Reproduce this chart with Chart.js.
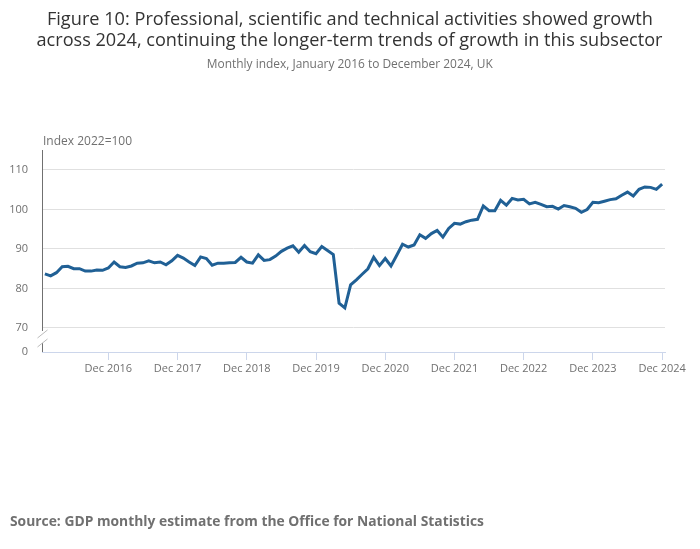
<!DOCTYPE html>
<html>
<head>
<meta charset="utf-8">
<script src="https://cdn.jsdelivr.net/npm/chart.js@4.4.1/dist/chart.umd.min.js"></script>
<style>
html,body{margin:0;padding:0;background:#fff;}
#wrap{position:relative;width:700px;height:549px;overflow:hidden;font-family:"Open Sans",sans-serif;}
#c{position:absolute;left:0;top:0;}
.t{position:absolute;left:0;width:700px;text-align:center;white-space:nowrap;}
.t span{display:inline-block;transform-origin:50% 50%;}
#t1{top:6px;font-size:19px;line-height:24px;color:#333;}
#t2{top:27px;font-size:19px;line-height:24px;color:#333;}
#sub{top:56px;font-size:12px;line-height:16px;color:#707070;}
#src{position:absolute;left:10px;top:511px;font-size:14px;line-height:20px;font-weight:700;color:#707070;white-space:nowrap;}
#src span{display:inline-block;transform-origin:0 50%;}
</style>
</head>
<body>
<div id="wrap">
<canvas id="c" width="700" height="549"></canvas>
<div class="t" id="t1"><span data-w="606">Figure 10: Professional, scientific and technical activities showed growth</span></div>
<div class="t" id="t2"><span data-w="626">across 2024, continuing the longer-term trends of growth in this subsector</span></div>
<div class="t" id="sub"><span data-w="286">Monthly index, January 2016 to December 2024, UK</span></div>
<div id="src"><span data-w="474">Source: GDP monthly estimate from the Office for National Statistics</span></div>
</div>
<script>
// ---- data ----
const monthNames = ['Jan','Feb','Mar','Apr','May','Jun','Jul','Aug','Sep','Oct','Nov','Dec'];
const years = [2016,2017,2018,2019,2020,2021,2022,2023,2024];
const v2016 = [83.7,83.2,84.0,85.5,85.6,85.0,85.0,84.4,84.4,84.7,84.6,85.2];
const v2017 = [86.7,85.5,85.3,85.7,86.4,86.5,87.0,86.5,86.7,86.0,87.0,88.4];
const v2018 = [87.7,86.7,85.8,88.0,87.6,85.9,86.4,86.4,86.5,86.6,87.9,86.7];
const v2019 = [86.4,88.5,87.1,87.3,88.2,89.4,90.2,90.8,89.2,90.9,89.3,88.8];
const v2020 = [90.6,89.6,88.6,76.3,75.1,80.9,82.2,83.6,85.0,87.9,85.8,87.6];
const v2021 = [85.7,88.4,91.2,90.5,91.0,93.6,92.7,93.9,94.7,93.0,95.2,96.5];
const v2022 = [96.3,96.9,97.3,97.5,100.9,99.7,99.7,102.3,101.1,102.8,102.4,102.6];
const v2023 = [101.4,101.8,101.3,100.7,100.8,100.1,101.0,100.7,100.3,99.3,100.0,101.8];
const v2024 = [101.7,102.1,102.5,102.7,103.6,104.4,103.4,105.1,105.7,105.6,105.1,106.4];
const yTickValues = [70,80,90,100,110];
const yBreakLabel = '0';
const yAxisTitle = 'Index 2022=100';

const labels = [];
years.forEach(y => monthNames.forEach(m => labels.push(m + ' ' + y)));
const values = [].concat(v2016,v2017,v2018,v2019,v2020,v2021,v2022,v2023,v2024);

const Y_MIN = 63.92, Y_MAX = 115.06;

const breakPlugin = {
  id: 'breakAxis',
  afterDraw(chart) {
    const ctx = chart.ctx, a = chart.chartArea, ys = chart.scales.y;
    const y70 = ys.getPixelForValue(70);
    const x = Math.round(a.left) + 0.5;
    ctx.save();
    ctx.strokeStyle = '#707070';
    ctx.lineWidth = 1;
    ctx.beginPath();
    ctx.moveTo(x, a.top); ctx.lineTo(x, y70 + 3);
    ctx.moveTo(x, y70 + 15); ctx.lineTo(x, a.bottom);
    ctx.stroke();
    ctx.strokeStyle = '#bbbbbb';
    ctx.beginPath();
    ctx.moveTo(x - 5, y70 + 10); ctx.lineTo(x + 5, y70 + 2);
    ctx.moveTo(x - 5, y70 + 19); ctx.lineTo(x + 5, y70 + 11);
    ctx.stroke();
    ctx.fillStyle = '#707070';
    ctx.font = '12px "Open Sans"';
    ctx.textBaseline = 'middle';
    ctx.textAlign = 'left';
    ctx.fillText(yAxisTitle, a.left + 1, a.top - 8);
    ctx.restore();
  }
};

new Chart(document.getElementById('c'), {
  type: 'line',
  data: {
    labels: labels,
    datasets: [{
      data: values,
      borderColor: '#206095',
      borderWidth: 3,
      pointRadius: 0,
      tension: 0,
      fill: false
    }]
  },
  options: {
    responsive: false,
    animation: false,
    layout: { padding: { top: 150, right: 35, bottom: 167, left: 0 } },
    plugins: { legend: { display: false }, tooltip: { enabled: false }, title: { display: false } },
    scales: {
      x: {
        type: 'category',
        offset: true,
        grid: {
          offset: false,
          drawOnChartArea: false,
          tickLength: 8,
          color: c => (c.index % 12 === 11) ? '#ccd6eb' : 'rgba(0,0,0,0)'
        },
        border: { color: '#ccd6eb' },
        ticks: {
          autoSkip: false, maxRotation: 0, minRotation: 0, padding: 2,
          color: '#707070', font: { size: 11, family: 'Open Sans' },
          callback: function (v, i) { return i % 12 === 11 ? labels[i] : ''; }
        },
        afterFit: s => { s.height = 30; }
      },
      y: {
        min: Y_MIN, max: Y_MAX,
        afterBuildTicks: s => { s.ticks = [Y_MIN].concat(yTickValues).map(v => ({ value: v })); },
        ticks: {
          padding: 14, color: '#707070', font: { size: 11, family: 'Open Sans' },
          callback: v => (v === Y_MIN ? yBreakLabel : String(v))
        },
        grid: {
          drawTicks: false,
          color: c => (c.tick && c.tick.value === Y_MIN) ? 'rgba(0,0,0,0)' : '#e0e0e0'
        },
        border: { display: false },
        afterFit: s => { s.width = 42; }
      }
    }
  },
  plugins: [breakPlugin]
});

document.querySelectorAll('span[data-w]').forEach(sp => {
  const w = sp.getBoundingClientRect().width;
  const target = parseFloat(sp.getAttribute('data-w'));
  if (w > 0) sp.style.transform = 'scaleX(' + (target / w).toFixed(4) + ')';
});
</script>
</body>
</html>
